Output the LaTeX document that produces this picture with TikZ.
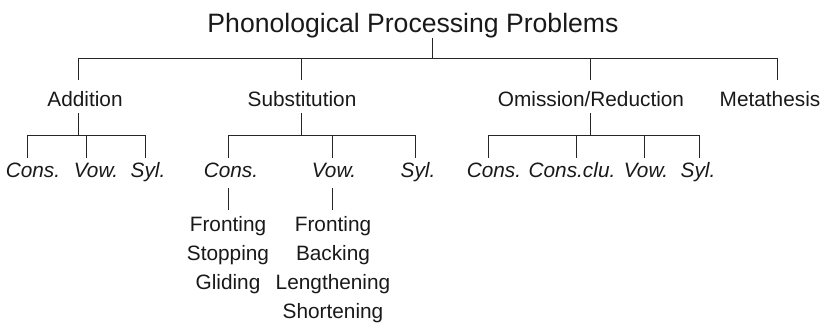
\documentclass[tikz,border=0pt]{standalone}
\usepackage{fontspec}
\setmainfont{Liberation Sans}
\tikzset{
  top/.style = {anchor = base, inner sep = 0pt, font = \fontsize{26.6}{32}\selectfont},
  cat/.style = {anchor = base, inner sep = 0pt, font = \fontsize{20.8}{29}\selectfont},
  sub/.style = {cat, font = \fontsize{20.8}{29}\selectfont\itshape},
  proc/.style = {anchor = north, inner sep = 0pt, align = center, font = \fontsize{20.8}{29}\selectfont},
  branch/.style = {line width = .9pt, color = black!85}
}
\begin{document}
\begin{tikzpicture}[x = 1pt, y = -1pt, text = black!90]
\useasboundingbox (0,0) rectangle (824,324);

% heading and first level
\node[top] (ppp) at (413,32) {Phonological Processing Problems};
\node[cat] (add) at (85,106) {Addition};
\node[cat] (subst) at (302,106) {Substitution};
\node[cat] (omi) at (591,106) {Omission/Reduction};
\node[cat] (met) at (770,106) {Metathesis};

% second level
\node[sub] (addcons) at (33,177) {Cons.};
\node[sub] (addvow) at (96,177) {Vow.};
\node[sub] (addsyl) at (148,177) {Syl.};
\node[sub] (subcons) at (231,177) {Cons.};
\node[sub] (subvow) at (334,177) {Vow.};
\node[sub] (subsyl) at (418,177) {Syl.};
\node[sub] (omicons) at (494,177) {Cons.};
\node[sub] (omiclu) at (572,177) {Cons.clu.};
\node[sub] (omivow) at (646,177) {Vow.};
\node[sub] (omisyl) at (698,177) {Syl.};

% processes
\node[proc] (conslist) at (228,216) {Fronting\\Stopping\\Gliding};
\node[proc] (vowlist) at (333,216) {Fronting\\Backing\\Lengthening\\Shortening};

% junctions
\coordinate (j0) at (432,58);
\coordinate (jadd) at (78,58);
\coordinate (jsub) at (301,58);
\coordinate (jomi) at (590,58);
\coordinate (jmet) at (777,58);
\coordinate (kadd) at (78,135);
\coordinate (ksub) at (301,135);
\coordinate (komi) at (590,135);

\draw[branch] (j0 |- ppp.south) -- (j0);
\draw[branch] (jadd) -- (jmet);
\foreach \j in {jadd, jsub, jomi, jmet}
  \draw[branch] (\j) -- ++(0,22);

\draw[branch] (kadd) -- ++(0,-22);
\draw[branch] (ksub) -- ++(0,-22);
\draw[branch] (komi) -- ++(0,-22);

\draw[branch] (27,135) -- (145,135);
\draw[branch] (228,135) -- (415,135);
\draw[branch] (488,135) -- (699,135);
\foreach \x in {27, 86, 145, 228, 332, 415, 488, 576, 644, 699}
  \draw[branch] (\x,135) -- ++(0,23);

\draw[branch] (228,188) -- (228,210);
\draw[branch] (332,188) -- (332,210);
\end{tikzpicture}
\end{document}
